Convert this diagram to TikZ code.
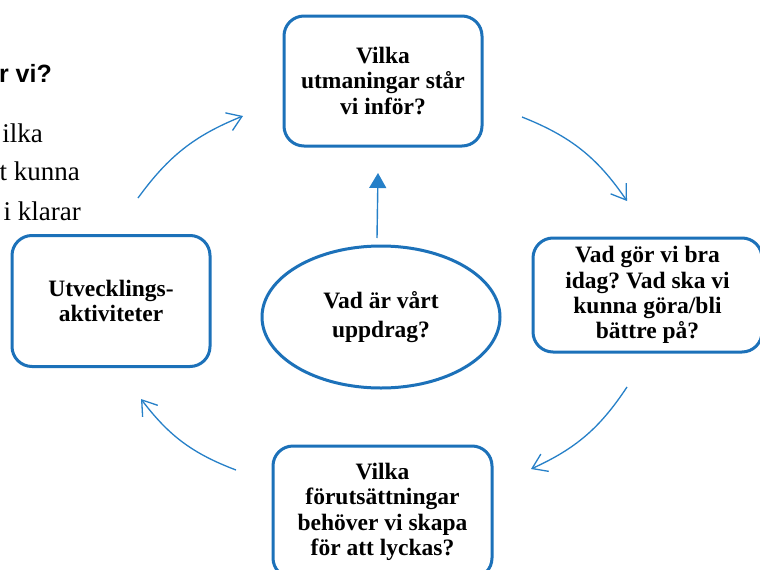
\documentclass[tikz,border=0pt]{standalone}
\usepackage{fontspec}
\setmainfont{Liberation Serif}
\newfontfamily\arialfont{Liberation Sans}
\usetikzlibrary{shapes.geometric,arrows.meta}
\definecolor{boxblue}{RGB}{28,113,185}
\definecolor{arcblue}{RGB}{38,128,200}
\frenchspacing
\tikzset{
  qbox/.style={draw=boxblue, line width=3pt, rounded corners=20pt, align=center,
    inner sep=0pt, font=\bfseries\fontsize{23.5}{25.3}\selectfont},
  qell/.style={draw=boxblue, line width=3pt, ellipse, inner sep=0pt, align=center,
    minimum width=238pt, minimum height=142pt, font=\bfseries\fontsize{23.5}{29}\selectfont},
  cyc/.style={draw=arcblue, line width=1.3pt, -{Straight Barb[length=14pt,width=19pt,line width=1.3pt]}},
  uparrow/.style={draw=arcblue, line width=1.4pt, -{Triangle[length=15pt,width=17pt]}},
  sidetext/.style={anchor=base east, inner sep=0pt, font=\fontsize{27}{34}\selectfont},
}
\begin{document}
\begin{tikzpicture}[x=1pt,y=-1pt]
\useasboundingbox (0,0) rectangle (760,570);
\clip (0,0) rectangle (760,570);
\fill[white] (0,0) rectangle (760,570);
% text fragments at the left edge
\node[anchor=base east, inner sep=0pt, font=\arialfont\bfseries\fontsize{25}{30}\selectfont] (t0) at (52,82) {r vi?};
\node[sidetext] (t1) at (43,142) {ilka};
\node[sidetext] (t2) at (80,180) {t kunna};
\node[sidetext] (t3) at (81,220) {i klarar};
% boxes
\node[qbox, minimum width=198pt, minimum height=130pt] (top) at (383,81)
  {Vilka\\utmaningar står\\vi inför?};
\node[qbox, minimum width=229pt, minimum height=114pt] (right) at (647.5,295)
  {Vad gör vi bra\\idag? Vad ska vi\\kunna göra/bli\\bättre på?};
\node[qbox, minimum width=219pt, minimum height=132pt] (bottom) at (382.5,512)
  {Vilka\\förutsättningar\\behöver vi skapa\\för att lyckas?};
\node[qbox, minimum width=198pt, minimum height=131pt] (left) at (111,301)
  {Utvecklings-\\aktiviteter};
\node[qell] (mid) at (381,317) {Vad är vårt\\uppdrag?};
% central arrow
\coordinate (ua) at (377,238);
\coordinate (ub) at (378,173);
\draw[uparrow] (ua) -- (ub);
% cycle arcs
\coordinate (a1s) at (522,117); \coordinate (a1e) at (627,201);
\coordinate (a2s) at (627,387); \coordinate (a2e) at (531,469);
\coordinate (a3s) at (236,470); \coordinate (a3e) at (141,399);
\coordinate (a4s) at (138,198); \coordinate (a4e) at (243,116);
\draw[cyc] (a1s) to[bend left=17] (a1e);
\draw[cyc] (a2s) to[bend left=16] (a2e);
\draw[cyc] (a3s) to[bend left=16] (a3e);
\draw[cyc] (a4s) to[bend left=16] (a4e);
\end{tikzpicture}
\end{document}
